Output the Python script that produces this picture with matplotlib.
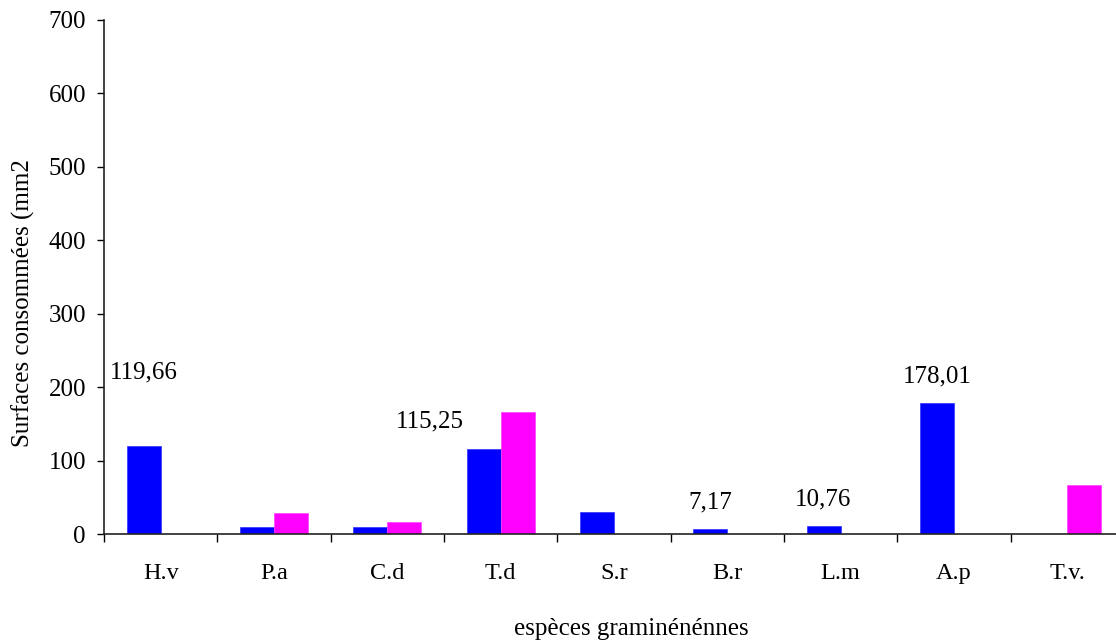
import numpy as np
from matplotlib import pyplot as plt

# espèces et surfaces consommées (mm2)
especes = ['H.v', 'P.a', 'C.d', 'T.d', 'S.r', 'B.r', 'L.m', 'A.p', 'T.v.']
serie_bleue = [119.66, 10, 10, 115.25, 30, 7.17, 10.76, 178.01, 0]
serie_rose = [0, 28, 16, 166, 0, 0, 0, 0, 67]
# étiquettes affichées sur la série bleue
etiquettes = {0: '119,66', 3: '115,25', 5: '7,17', 6: '10,76', 7: '178,01'}

plt.rcParams['font.family'] = ['Liberation Serif', 'DejaVu Serif']

fig = plt.figure(figsize=(11.16, 6.43), dpi=100)
ax = fig.add_axes([0.0932, 0.1695, 0.9138, 0.7995])

x = np.arange(len(especes))
w = 0.3
ax.bar(x - w / 2, serie_bleue, w, color='#0000FF', edgecolor='#3030FF', linewidth=0.5)
ax.bar(x + w / 2, serie_rose, w, color='#FF00FF', edgecolor='#FF40FF', linewidth=0.5)

# décalages des étiquettes (points)
decalage = {0: (0, 53), 3: (-39, 20)}
for i, txt in etiquettes.items():
    dx, dy = decalage.get(i, (0, 19))
    ax.annotate(txt, (x[i] - w / 2, serie_bleue[i]), xytext=(dx, dy),
                textcoords='offset points', ha='center', va='center', fontsize=18)

ax.set_xlim(-0.5, len(especes) - 0.5)
ax.set_ylim(0, 700)
ax.set_yticks(range(0, 701, 100))
ax.set_xticks(np.arange(len(especes) + 1) - 0.5)
ax.set_xticklabels([])
ax.set_xticks(x, minor=True)
ax.set_xticklabels(especes, minor=True)
ax.tick_params(axis='x', which='minor', length=0, pad=21, labelsize=17.5)
ax.tick_params(axis='x', which='major', direction='out', length=6, width=1)
ax.tick_params(axis='y', direction='out', length=5, width=1, labelsize=18, pad=8)

for s in ['top', 'right']:
    ax.spines[s].set_visible(False)
for s in ['left', 'bottom']:
    ax.spines[s].set_linewidth(1.2)
    ax.spines[s].set_color('#222222')

fig.text(0.0206, 0.529, 'Surfaces consommées (mm2', rotation=90, ha='center', va='center', fontsize=18)
fig.text(0.566, 0.022, 'espèces graminénénnes', ha='center', va='center', fontsize=18)

plt.savefig('out.png')
